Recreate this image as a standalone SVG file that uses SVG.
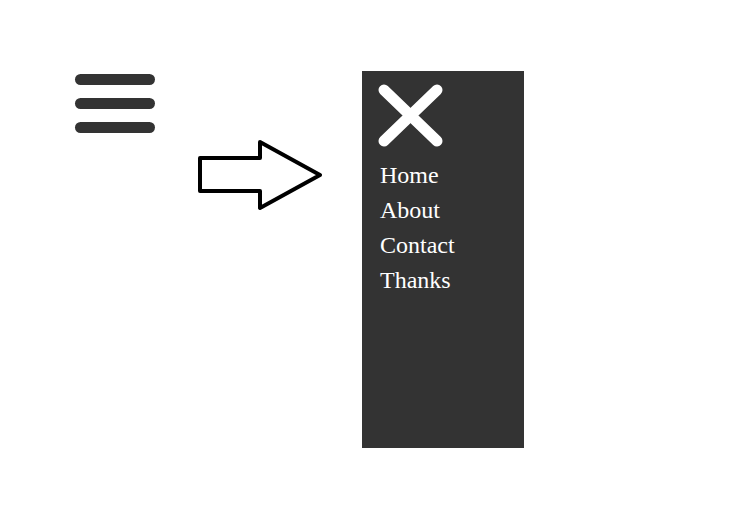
<svg xmlns="http://www.w3.org/2000/svg" width="747" height="531" viewBox="0 0 747 531">
<style>
.bar{stroke:#333;stroke-width:11;stroke-linecap:round;fill:none}
.x{stroke:#fff;stroke-width:11;stroke-linecap:round;fill:none}
.t{font-family:"Liberation Serif","Times New Roman",serif;font-size:24px;fill:#fff}
</style>
<rect width="747" height="531" fill="#fff"/>
<g id="hamburger">
<line class="bar" x1="80.5" y1="79.5" x2="149.5" y2="79.5"/>
<line class="bar" x1="80.5" y1="103.5" x2="149.5" y2="103.5"/>
<line class="bar" x1="80.5" y1="127.5" x2="149.5" y2="127.5"/>
</g>
<g id="connectors">
<polygon points="200,158 260,158 260,142 320,175 260,208 260,191 200,191" fill="#fff" stroke="#000" stroke-width="4" stroke-linejoin="round"/>
</g>
<g id="menu">
<rect x="362" y="71" width="162" height="377" fill="#333"/>
<line class="x" x1="384" y1="90" x2="437" y2="141"/>
<line class="x" x1="437" y1="90" x2="384" y2="141"/>
<text class="t" x="380" y="183">Home</text>
<text class="t" x="380" y="218">About</text>
<text class="t" x="380" y="253">Contact</text>
<text class="t" x="380" y="288">Thanks</text>
</g>
</svg>
